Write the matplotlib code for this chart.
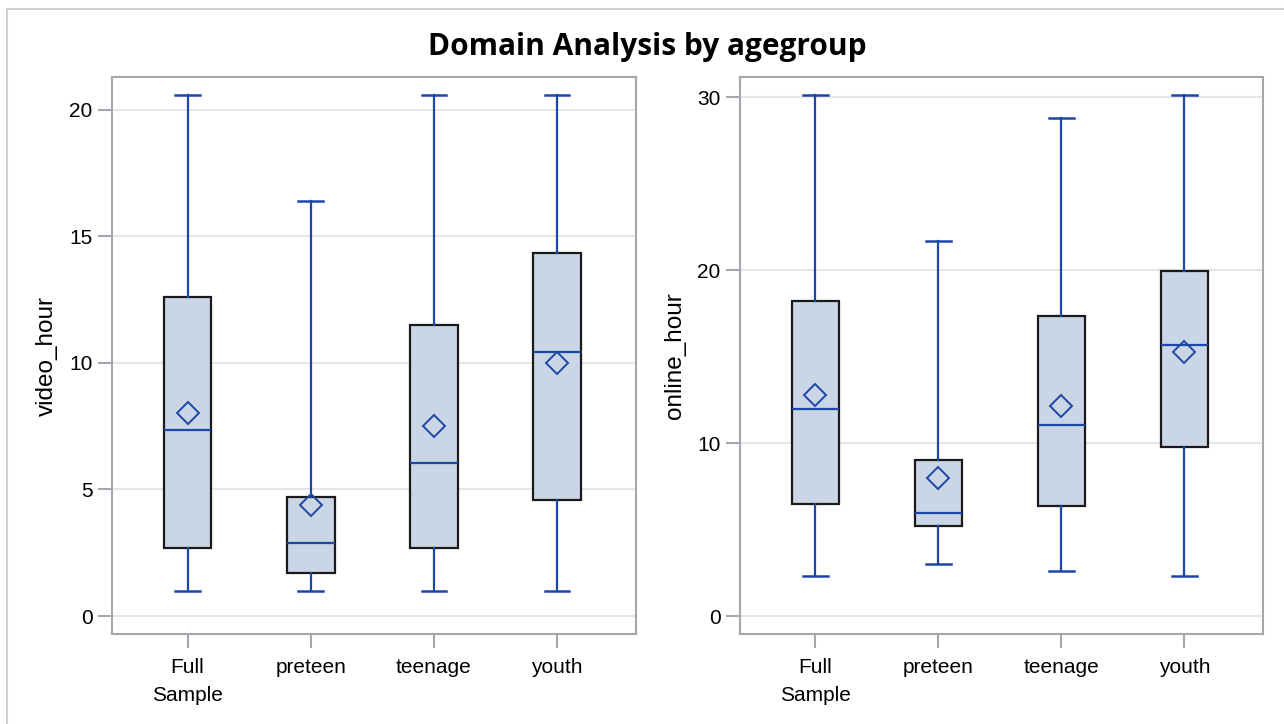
import matplotlib.pyplot as plt
from matplotlib.patches import Rectangle

groups = ["Full\nSample", "preteen", "teenage", "youth"]

# video_hour: whisker low, Q1, median, Q3, whisker high, mean
video_low = [1.0, 1.0, 1.0, 1.0]
video_q1 = [2.69, 1.7, 2.69, 4.58]
video_med = [7.35, 2.89, 6.05, 10.43]
video_q3 = [12.6, 4.7, 11.5, 14.35]
video_high = [20.6, 16.4, 20.6, 20.6]
video_mean = [8.02, 4.39, 7.5, 10.0]

# online_hour
online_low = [2.31, 3.0, 2.6, 2.31]
online_q1 = [6.47, 5.2, 6.36, 9.77]
online_med = [11.97, 5.95, 11.04, 15.66]
online_q3 = [18.2, 9.0, 17.34, 19.94]
online_high = [30.1, 21.7, 28.8, 30.1]
online_mean = [12.77, 7.98, 12.14, 15.26]

fill = "#CAD5E5"
line = "#1C47A6"
frame = "#A4A8AE"
grid = "#E6E6E6"

plt.rcParams['font.family'] = ['Liberation Sans', 'DejaVu Sans']

fig = plt.figure(figsize=(12.84, 7.24), dpi=100)
W, H = 1284, 724
# outer frame, cut off at the right and bottom like the original
fig.patches.append(Rectangle((7 / W, -0.2), 1.2, 1.2 - 9 / H, transform=fig.transFigure,
                             fill=False, edgecolor="#D0D0D0", linewidth=1.5))

ax1 = fig.add_axes([112 / W, 1 - 634 / H, 524 / W, 557 / H])
ax2 = fig.add_axes([740 / W, 1 - 634 / H, 523 / W, 557 / H])


def draw(ax, low, q1, med, q3, high, mean, ylabel, ylim, ticks):
    stats = []
    for i in range(len(groups)):
        stats.append(dict(whislo=low[i], q1=q1[i], med=med[i], q3=q3[i],
                          whishi=high[i], mean=mean[i], fliers=[]))
    pos = list(range(1, len(groups) + 1))
    ax.bxp(stats, positions=pos, widths=0.387, showmeans=True, patch_artist=True,
           boxprops=dict(facecolor=fill, edgecolor="#1A1A1A", linewidth=1.6),
           medianprops=dict(color=line, linewidth=1.6),
           whiskerprops=dict(color=line, linewidth=1.6),
           capprops=dict(color=line, linewidth=1.8),
           meanprops=dict(marker="D", markersize=11, markerfacecolor="none",
                          markeredgecolor=line, markeredgewidth=1.4),
           capwidths=0.2, zorder=3)
    ax.set_xlim(0.387, 4.64)
    ax.set_ylim(*ylim)
    ax.set_yticks(ticks)
    ax.set_xticks(pos)
    ax.set_xticklabels(groups, fontsize=15, linespacing=1.6)
    ax.tick_params(axis="y", labelsize=15, length=10, color=frame, width=1.5, pad=4)
    ax.tick_params(axis="x", length=10, color=frame, width=1.5, pad=7)
    ax.yaxis.grid(True, color=grid, linewidth=1.5, zorder=0)
    ax.set_axisbelow(True)
    for s in ax.spines.values():
        s.set_color(frame)
        s.set_linewidth(1.5)
    ax.set_ylabel(ylabel, fontsize=17.5, labelpad=8)


draw(ax1, video_low, video_q1, video_med, video_q3, video_high, video_mean,
     "video_hour", (-0.71, 21.3), [0, 5, 10, 15, 20])
draw(ax2, online_low, online_q1, online_med, online_q3, online_high, online_mean,
     "online_hour", (-1.04, 31.16), [0, 10, 20, 30])

fig.text(647 / W, 1 - 47 / H, "Domain Analysis by agegroup", ha="center", va="center",
         fontsize=21.5, fontweight="bold", family=["Open Sans", "DejaVu Sans"])

fig.savefig("out.png", dpi=100)
